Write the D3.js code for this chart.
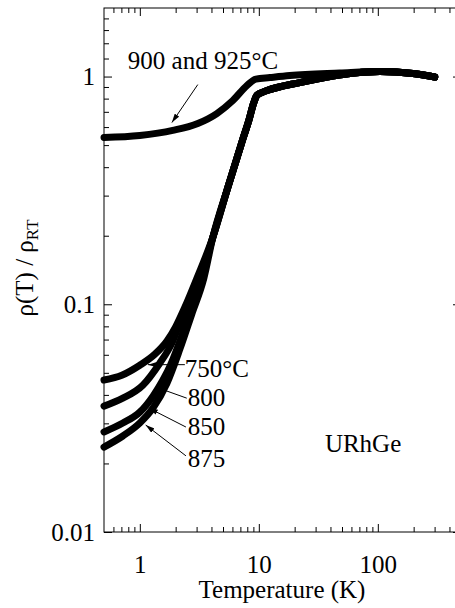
<!DOCTYPE html>
<html>
<head>
<meta charset="utf-8">
<script src="https://cdn.jsdelivr.net/npm/d3@7"></script>
</head>
<body style="margin:0">
<div id="chart-area"></div>
<script>
// ---- DATA (T in K, rho(T)/rho_RT) ----
// 900 and 925°C anneal
const tA = [0.5, 1.0, 1.89, 3.07, 4.44, 6.05, 7.93, 9.44, 12.4, 18.2, 48, 104, 197, 300]
const rA = [0.540, 0.551, 0.580, 0.622, 0.688, 0.785, 0.913, 0.975, 0.990, 1.010, 1.036, 1.052, 1.031, 0.995]

// low temperature parts of the other anneals
const t750 = [0.5, 0.706, 1.0, 1.34, 1.69, 2.01, 2.39, 3.07]
const r750 = [0.0465, 0.0488, 0.054, 0.0604, 0.0689, 0.080, 0.097, 0.133]
const t800 = [0.5, 0.72, 1.06, 1.47, 1.86, 2.17, 2.53, 3.19]
const r800 = [0.0357, 0.0387, 0.0441, 0.0551, 0.0675, 0.0826, 0.099, 0.131]
const t850 = [0.5, 0.72, 1.0, 1.29, 1.56, 1.82, 2.17, 2.63, 3.32]
const r850 = [0.0275, 0.0301, 0.0336, 0.0395, 0.0464, 0.0545, 0.0689, 0.0922, 0.131]
const t875 = [0.5, 0.72, 1.0, 1.29, 1.69, 2.17, 2.73, 3.45]
const r875 = [0.0236, 0.0264, 0.0301, 0.035, 0.045, 0.0635, 0.0904, 0.130]

// common high temperature part (curves lie on top of each other)
const tShared = [4.11, 5.49, 7.41, 8.24, 9.08, 9.62, 10.6, 11.7, 22.1, 41.9, 64.1, 104, 197, 301]
const rShared = [0.197, 0.326, 0.540, 0.641, 0.769, 0.825, 0.851, 0.868, 0.941, 1.005, 1.036, 1.052, 1.031, 0.995]

// axis ticks
const xMajor = [1, 10, 100]
const xMinor = [0.6, 0.7, 0.8, 0.9, 2, 3, 4, 5, 6, 7, 8, 9, 20, 30, 40, 50, 60, 70, 80, 90, 200, 300, 400]
const yMajor = [0.01, 0.1, 1]
const yMinor = [0.02, 0.03, 0.04, 0.05, 0.06, 0.07, 0.08, 0.09, 0.2, 0.3, 0.4, 0.5, 0.6, 0.7, 0.8, 0.9, 1.2, 1.4, 1.6, 1.8]

// labels: [text, T, rho] and arrows: [tailT, tailR, tipT, tipR]
const labels = [
  ["900 and 925°C", 0.793, 1.084],
  ["750°C", 2.39, 0.0478],
  ["800", 2.53, 0.0357],
  ["850", 2.53, 0.0266],
  ["875", 2.53, 0.0193],
  ["URhGe", 35.9, 0.0224]
]
const arrows = [
  [3.07, 0.922, 1.86, 0.628],
  [2.39, 0.0543, 1.17, 0.0543],
  [2.48, 0.0387, 1.36, 0.0433],
  [2.44, 0.0289, 1.19, 0.035],
  [2.44, 0.0216, 1.12, 0.0295]
]

// ---- SETUP ----
const WIDTH = 455
const HEIGHT = 608
const FONT = 25
const SERIF = "Times New Roman"

const svg = d3.select("#chart-area").append("svg")
  .attr("width", WIDTH)
  .attr("height", HEIGHT)
  .attr("font-family", SERIF)

const x = d3.scaleLog().domain([0.5, 500]).range([104, 461])
const y = d3.scaleLog().domain([0.01, 2]).range([532, 8])

const [x0, x1] = x.range()
const [y0, y1] = y.range()

const serif = (sel, size) => sel.attr("font-size", size).attr("font-family", SERIF).style("font-family", SERIF)

// frame
svg.append("rect")
  .attr("x", x0).attr("y", y1)
  .attr("width", x1 - x0).attr("height", y0 - y1)
  .attr("fill", "none").attr("stroke", "#000").attr("stroke-width", 1)

// AXES (ticks inward)
const axisStyle = (sel) => {
  sel.attr("font-family", SERIF).attr("font-size", FONT)
  sel.select(".domain").remove()
  sel.selectAll("line").attr("stroke", "#000")
  sel.selectAll("text").attr("fill", "#000").call(serif, FONT)
}

svg.append("g").attr("transform", `translate(0, ${y0})`)
  .call(d3.axisBottom(x).tickValues(xMajor).tickSize(-8).tickPadding(23).tickFormat(d3.format("d")))
  .call(axisStyle)
svg.append("g").attr("transform", `translate(0, ${y0})`)
  .call(d3.axisBottom(x).tickValues(xMinor).tickSize(-5).tickFormat(""))
  .call(axisStyle)
svg.append("g").attr("transform", `translate(0, ${y1})`)
  .call(d3.axisTop(x).tickValues(xMajor).tickSize(-8).tickFormat(""))
  .call(axisStyle)
svg.append("g").attr("transform", `translate(0, ${y1})`)
  .call(d3.axisTop(x).tickValues(xMinor).tickSize(-5).tickFormat(""))
  .call(axisStyle)

svg.append("g").attr("transform", `translate(${x0}, 0)`)
  .call(d3.axisLeft(y).tickValues(yMajor).tickSize(-8).tickPadding(9).tickFormat(d => d3.format("")(d)))
  .call(axisStyle)
svg.append("g").attr("transform", `translate(${x0}, 0)`)
  .call(d3.axisLeft(y).tickValues(yMinor).tickSize(-5).tickFormat(""))
  .call(axisStyle)
svg.append("g").attr("transform", `translate(${x1}, 0)`)
  .call(d3.axisRight(y).tickValues(yMajor).tickSize(-8).tickFormat(""))
  .call(axisStyle)
svg.append("g").attr("transform", `translate(${x1}, 0)`)
  .call(d3.axisRight(y).tickValues(yMinor).tickSize(-5).tickFormat(""))
  .call(axisStyle)

// axis titles
svg.append("text")
  .attr("x", 282).attr("y", 598)
  .attr("text-anchor", "middle")
  .call(serif, FONT)
  .text("Temperature (K)")

const yTitle = svg.append("text")
  .attr("transform", "translate(33, 268) rotate(-90)")
  .attr("text-anchor", "middle")
  .call(serif, FONT)
yTitle.append("tspan").text("ρ(T) / ρ")
yTitle.append("tspan").attr("font-size", 17).attr("dy", 5).text("RT")

// ---- CURVES ----
const zip = (ts, rs) => ts.map((t, i) => [t, rs[i]])
const series = [
  zip(tA, rA),
  zip(t750, r750).concat(zip(tShared, rShared)),
  zip(t800, r800).concat(zip(tShared, rShared)),
  zip(t850, r850).concat(zip(tShared, rShared)),
  zip(t875, r875).concat(zip(tShared, rShared))
]

const line = d3.line()
  .x(d => x(d[0]))
  .y(d => y(d[1]))
  .curve(d3.curveMonotoneX)

svg.append("g").selectAll("path")
  .data(series)
  .enter().append("path")
  .attr("d", line)
  .attr("fill", "none")
  .attr("stroke", "#000")
  .attr("stroke-width", 7)
  .attr("stroke-linecap", "round")
  .attr("stroke-linejoin", "round")

// ---- ANNOTATIONS ----
svg.append("defs").append("marker")
  .attr("id", "head")
  .attr("viewBox", "0 0 10 6")
  .attr("refX", 10).attr("refY", 3)
  .attr("markerWidth", 9).attr("markerHeight", 5.5)
  .attr("markerUnits", "userSpaceOnUse")
  .attr("orient", "auto")
  .append("path").attr("d", "M0,0 L10,3 L0,6 Z").attr("fill", "#000")

svg.append("g").selectAll("line")
  .data(arrows)
  .enter().append("line")
  .attr("x1", d => x(d[0])).attr("y1", d => y(d[1]))
  .attr("x2", d => x(d[2])).attr("y2", d => y(d[3]))
  .attr("stroke", "#000").attr("stroke-width", 1)
  .attr("marker-end", "url(#head)")

svg.append("g").selectAll("text")
  .data(labels)
  .enter().append("text")
  .attr("x", d => x(d[1])).attr("y", d => y(d[2]))
  .call(serif, FONT)
  .text(d => d[0])
</script>
</body>
</html>
